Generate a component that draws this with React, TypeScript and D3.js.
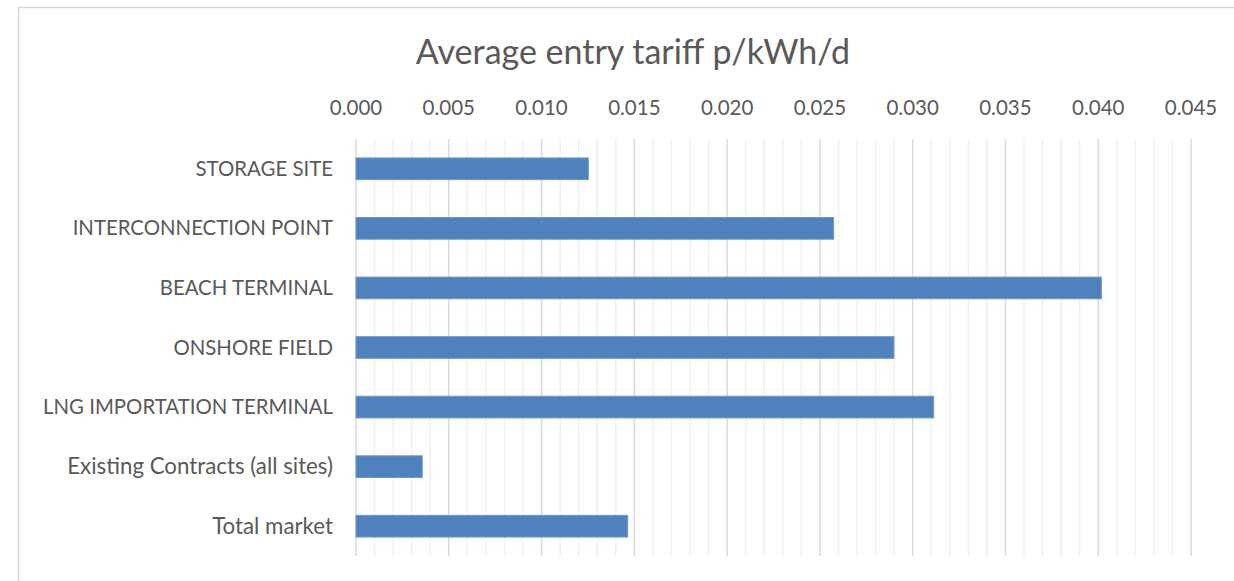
import React from "react";
import * as d3 from "d3";

const categories = [
  "STORAGE SITE",
  "INTERCONNECTION POINT",
  "BEACH TERMINAL",
  "ONSHORE FIELD",
  "LNG IMPORTATION TERMINAL",
  "Existing Contracts (all sites)",
  "Total market",
];
const values = [0.01252, 0.02574, 0.04017, 0.02899, 0.03113, 0.00357, 0.01464];
const majorTicks = [0, 0.005, 0.01, 0.015, 0.02, 0.025, 0.03, 0.035, 0.04, 0.045];
const title = "Average entry tariff p/kWh/d";

const W = 1234;
const H = 581;
const left = 356;
const right = 1191;
const top = 139;
const bottom = 556;
const font = "Lato, 'Open Sans', sans-serif";

export default function App() {
  const x = d3.scaleLinear().domain([0, 0.045]).range([left, right]);
  const y = d3.scaleBand<string>().domain(categories).range([top, bottom]).paddingInner(0.636).paddingOuter(0.318);
  const minorTicks = d3.range(0, 46).map((i) => i * 0.001);
  return (
    <svg width={W} height={H} style={{ position: "absolute", left: 0, top: 0 }}>
      <rect x={0} y={0} width={W} height={H} fill="#fff" />
      <rect x={18.5} y={7.5} width={W + 20} height={H + 20} fill="#fff" stroke="#d9d9d9" strokeWidth={1.5} />
      <text x={633} y={64} textAnchor="middle" fontFamily={font} fontSize={34} fill="#595959">
        {title}
      </text>
      {minorTicks.map((t, i) =>
        i % 5 === 0 ? null : (
          <line key={"m" + i} x1={x(t)} x2={x(t)} y1={top} y2={bottom} stroke="#f0f0f0" strokeWidth={1.5} />
        )
      )}
      {majorTicks.map((t, i) => (
        <g key={"M" + i}>
          <line x1={x(t)} x2={x(t)} y1={top} y2={bottom} stroke="#d9d9d9" strokeWidth={1.5} />
          <text x={x(t)} y={115} textAnchor="middle" fontFamily={font} fontSize={20.5} fill="#595959">
            {d3.format(".3f")(t)}
          </text>
        </g>
      ))}
      {categories.map((c, i) => (
        <g key={c}>
          <rect
            x={x(0)}
            y={y(c)!}
            width={x(values[i]) - x(0)}
            height={y.bandwidth()}
            fill="#4f81bd"
            stroke="#6f97cb"
            strokeWidth={1}
          />
          <text
            x={333}
            y={y(c)! + y.bandwidth() / 2}
            dy="0.35em"
            textAnchor="end"
            fontFamily={font}
            fontSize={i >= 5 ? 22.3 : 20.4}
            fill="#595959"
          >
            {c}
          </text>
        </g>
      ))}
    </svg>
  );
}
